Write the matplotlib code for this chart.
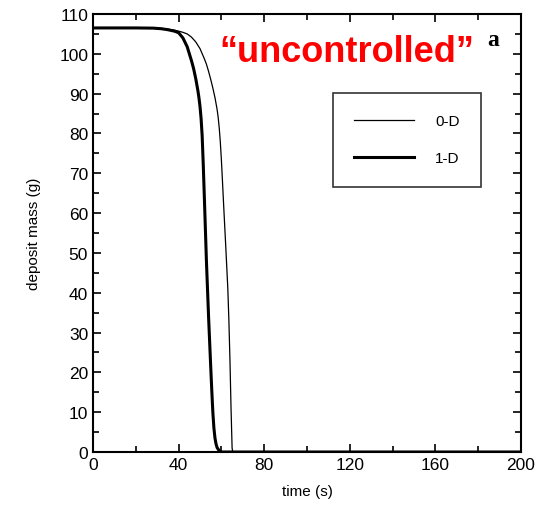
import matplotlib
matplotlib.use("Agg")
import matplotlib.pyplot as plt
from matplotlib.ticker import MultipleLocator

t_0d = [0, 20, 28, 32, 35, 38, 40, 42, 44, 46, 48, 50, 52, 53, 54, 55, 56, 57, 58, 58.5, 59, 59.5, 60,
        60.5, 61, 62, 63, 63.5, 64, 64.5, 65, 65.3, 80, 200]
m_0d = [106.5, 106.5, 106.45, 106.35, 106.2, 105.95, 105.7, 105.4, 105.0, 104.2, 103.0, 101.3, 98.8, 97.4,
        95.6, 93.6, 91.4, 89.0, 86.0, 84.0, 81.3, 77.8, 73.3, 68.0, 62.5, 52, 41, 33, 23, 11, 1, 0, 0, 0]

t_1d = [0, 20, 28, 32, 35, 38, 40, 42, 44, 46, 47, 48, 49, 49.5, 50, 50.5, 51, 51.5, 52, 53, 54, 55, 55.5,
        56, 56.5, 57, 57.5, 58, 59, 60, 80, 200]
m_1d = [106.5, 106.5, 106.45, 106.3, 106.05, 105.7, 105.3, 104.0, 101.8, 98.3, 96.3, 93.8, 90.8, 89.0,
        86.8, 83.8, 79.5, 72.5, 64.5, 48, 34, 21.5, 15.5, 10, 6, 3.5, 2, 1.1, 0.3, 0, 0, 0]

labels = ["0-D", "1-D"]
xticks = [0, 40, 80, 120, 160, 200]
yticks = list(range(0, 111, 10))

plt.rcParams['font.family'] = ['Liberation Sans', 'DejaVu Sans']

fig = plt.figure(figsize=(5.39, 5.06), dpi=100)
ax = fig.add_axes([93/539, 53/506, 428/539, 438/506])

ax.plot(t_0d, m_0d, color='black', lw=0.9, label=labels[0])
ax.plot(t_1d, m_1d, color='black', lw=2.2, label=labels[1])

ax.set_xlim(0, 200)
ax.set_ylim(0, 110)
ax.set_xticks(xticks)
ax.set_yticks(yticks)
ax.xaxis.set_minor_locator(MultipleLocator(20))
ax.yaxis.set_minor_locator(MultipleLocator(5))
ax.tick_params(which='both', direction='in', top=True, right=True, labelsize=12.5, width=1.2)
ax.tick_params(which='major', length=6)
ax.tick_params(which='minor', length=4)
for s in ax.spines.values():
    s.set_linewidth(1.5)

ax.set_xlabel("time (s)", fontsize=11, labelpad=9)
ax.set_ylabel("deposit mass (g)", fontsize=11, labelpad=13)

leg = fig.legend(loc='upper left', bbox_to_anchor=(333/539, 1 - 94/506),
                 fontsize=11, frameon=True, fancybox=False, edgecolor='black',
                 handlelength=3.9, borderpad=1.4, labelspacing=1.5, handletextpad=1.4, borderaxespad=0)
leg.get_frame().set_linewidth(1.2)

fig.text(347/539, 1 - 52/506, "\u201cuncontrolled\u201d", color='red', fontsize=26, fontweight='bold',
         ha='center', va='center')
fig.text(493/539, 1 - 40/506, "a", fontsize=17, fontweight='bold', family='Liberation Serif',
         ha='center', va='center')

fig.savefig("out.png", dpi=100)
